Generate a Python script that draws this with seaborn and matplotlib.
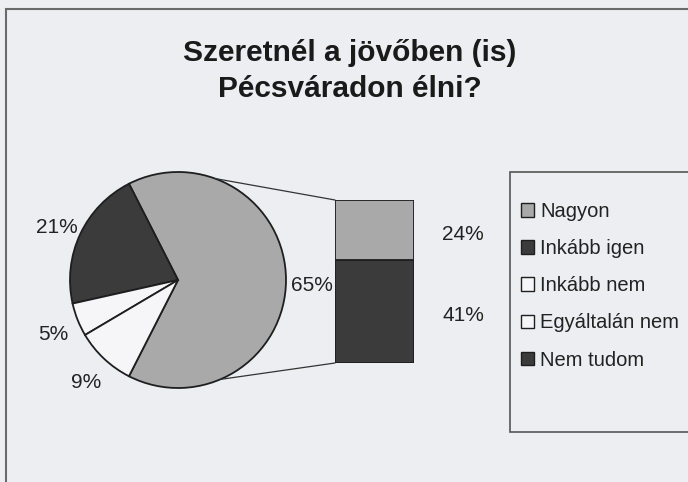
import numpy as np
import seaborn as sns
import matplotlib.pyplot as plt
from matplotlib.patches import Patch, Rectangle, ConnectionPatch
from matplotlib.transforms import offset_copy

# data
categories = ["Nagyon", "Inkább igen", "Inkább nem", "Egyáltalán nem", "Nem tudom"]
percents = [24, 41, 9, 5, 21]
pie_labels = ["Egyéb", "Nem tudom", "Egyáltalán nem", "Inkább nem"]
pie_values = [65, 21, 5, 9]
bar_labels = ["Inkább igen", "Nagyon"]
bar_values = [41, 24]
title = "Szeretnél a jövőben (is)\nPécsváradon élni?"

light = "#a9a9a9"
dark = "#3b3b3b"
white = "#f6f6f8"
bg = "#eceef2"
edge = "#1e1e1e"
colors = {"Nagyon": light, "Inkább igen": dark, "Inkább nem": white,
          "Egyáltalán nem": white, "Nem tudom": dark, "Egyéb": light}

sns.set_theme(style="white")
plt.rcParams["font.family"] = ["Liberation Sans", "DejaVu Sans"]

W, H = 688, 482
fig = plt.figure(figsize=(W / 100, H / 100), dpi=100)
fig.patch.set_facecolor(bg)


def px(x0, y0, w, h):
    # pixel box (top-left origin) -> figure fraction
    return [x0 / W, 1 - (y0 + h) / H, w / W, h / H]


# chart frame
fig.patches.append(Rectangle((6 / W, -0.1), 2, 1 - 9 / H + 0.1, transform=fig.transFigure,
                             fill=False, edgecolor="#6a6a6a", linewidth=1.5))

fig.text(350 / W, 1 - 71 / H, title, ha="center", va="center", fontsize=21.5,
         fontweight="bold", color="#1a1a1a", linespacing=1.35)

# pie
r = 108
ax_pie = fig.add_axes(px(178 - r, 280 - r, 2 * r, 2 * r))
wedges, texts, autotexts = ax_pie.pie(
    pie_values, startangle=-117, counterclock=True,
    colors=[colors[k] for k in pie_labels],
    wedgeprops=dict(edgecolor=edge, linewidth=1.3),
    autopct="%d%%", pctdistance=1.24,
    textprops=dict(fontsize=15, color="#222222"))
for t in autotexts:
    t.set_transform(offset_copy(ax_pie.transData, fig=fig, x=0, y=-5, units="dots"))
ax_pie.set_xlim(-1, 1)
ax_pie.set_ylim(-1, 1)
ax_pie.set_aspect("equal")
ax_pie.axis("off")

# bar of the 65% slice
ax_bar = fig.add_axes(px(335, 200, 79, 163))
lab_tr = offset_copy(ax_bar.transData, fig=fig, x=0, y=-4, units="dots")
bottom = 0
for lab, val in zip(bar_labels, bar_values):
    ax_bar.bar(0, val, width=1, bottom=bottom, color=colors[lab],
               edgecolor=edge, linewidth=1.3)
    ax_bar.text(1.12, bottom + val / 2, f"{val}%", ha="center", va="center",
                fontsize=15, color="#222222", clip_on=False, transform=lab_tr)
    bottom += val
ax_bar.set_xlim(-0.5, 0.5)
ax_bar.set_ylim(0, sum(bar_values))
ax_bar.axis("off")

# series lines
for ang, yb in [(70, sum(bar_values)), (-67, 0)]:
    a = np.deg2rad(ang)
    con = ConnectionPatch(xyA=(np.cos(a), np.sin(a)), coordsA=ax_pie.transData,
                          xyB=(-0.5, yb), coordsB=ax_bar.transData,
                          color="#333333", linewidth=0.9)
    fig.add_artist(con)

# legend
fig.patches.append(Rectangle((510 / W, 1 - 432 / H), 2, 260 / H, transform=fig.transFigure,
                             fill=True, facecolor=bg, edgecolor="#555555", linewidth=1.2))
handles = [Patch(facecolor=colors[c], edgecolor=edge, linewidth=1.0, label=c)
           for c in categories]
fig.legend(handles=handles, loc="upper left", bbox_to_anchor=(521 / W, 1 - 202 / H),
           frameon=False, fontsize=14.5, handlelength=0.65, handleheight=0.65,
           handletextpad=0.3, labelspacing=0.9, borderpad=0, borderaxespad=0,
           labelcolor="#222222")

fig.savefig("out.png", dpi=100, facecolor=bg)
